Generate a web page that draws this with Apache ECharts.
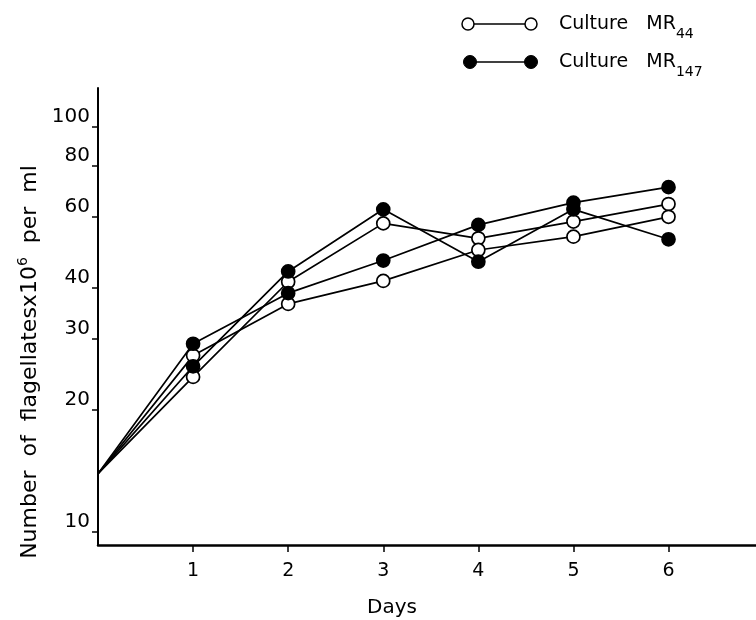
<!DOCTYPE html>
<html>
<head>
<meta charset="utf-8">
<script src="https://cdn.jsdelivr.net/npm/echarts@6/dist/echarts.min.js"></script>
<style>
html,body{margin:0;padding:0;background:#fff;}
#chart{width:756px;height:620px;}
</style>
</head>
<body>
<div id="chart"></div>
<script>
// ---- data ----
const days = [0, 1, 2, 3, 4, 5, 6];
const dayTicks = [1, 2, 3, 4, 5, 6];
const yTicks = [10, 20, 30, 40, 60, 80, 100];
// Culture MR147 (filled), two replicates
const mr147a = [13.9, 29.1, 38.8, 46.7, 57.2, 64.9, 70.9];
const mr147b = [13.9, 25.6, 43.9, 62.5, 46.4, 62.5, 52.7];
// Culture MR44 (open), two replicates
const mr44a = [13.9, 24.1, 41.4, 57.7, 53.0, 58.3, 64.4];
const mr44b = [13.9, 27.2, 36.5, 41.6, 49.6, 53.5, 59.9];

const FONT = 'DejaVu Sans';

function toData(vals) {
  return days.map((d, i) => i === 0 ? { value: [d, vals[i]], symbol: 'none' } : [d, vals[i]]);
}
function mkSeries(name, vals, filled) {
  return {
    name: name,
    type: 'line',
    data: toData(vals),
    symbol: 'circle',
    symbolSize: 13,
    showSymbol: true,
    lineStyle: { color: '#000', width: 1.7 },
    itemStyle: { color: filled ? '#000' : '#fff', borderColor: '#000', borderWidth: 1.7, opacity: 1 },
    emphasis: { disabled: true },
    z: filled ? 3 : 2
  };
}

const chart = echarts.init(document.getElementById('chart'));
chart.setOption({
  animation: false,
  backgroundColor: '#fff',
  grid: { left: 98, right: 0, top: 88, bottom: 75, outerBoundsMode: 'none' },
  xAxis: {
    type: 'value',
    min: 0,
    max: 6.92,
    interval: 1,
    name: 'Days',
    nameLocation: 'middle',
    nameGap: 53,
    nameTextStyle: { fontFamily: FONT, fontSize: 20, color: '#000', padding: [0, 70, 0, 0] },
    axisLine: { show: true, lineStyle: { color: '#000', width: 2.5 } },
    axisTick: { show: true, customValues: dayTicks, length: 7, lineStyle: { color: '#000', width: 1.5 } },
    axisLabel: { customValues: dayTicks, fontFamily: FONT, fontSize: 19, color: '#000', margin: 17 },
    splitLine: { show: false }
  },
  yAxis: {
    type: 'log',
    logBase: 10,
    min: 9.265,
    max: 124.6,
    axisLine: { show: true, lineStyle: { color: '#000', width: 2 } },
    axisTick: { show: true, customValues: yTicks, length: 6, lineStyle: { color: '#000', width: 1.5 } },
    axisLabel: { customValues: yTicks, fontFamily: FONT, fontSize: 20, color: '#000', margin: 8, verticalAlign: 'bottom' },
    splitLine: { show: false },
    minorTick: { show: false },
    minorSplitLine: { show: false }
  },
  series: [
    mkSeries('MR44 a', mr44a, false),
    mkSeries('MR44 b', mr44b, false),
    mkSeries('MR147 a', mr147a, true),
    mkSeries('MR147 b', mr147b, true)
  ],
  graphic: [
    {
      type: 'text',
      x: 30, y: 362,
      rotation: Math.PI / 2,
      style: {
        text: 'Number  of  flagellatesx10{sup|6}  per  ml',
        fontFamily: FONT, fontSize: 22, fill: '#000',
        align: 'center', verticalAlign: 'middle',
        lineHeight: 28,
        rich: { sup: { fontFamily: FONT, fontSize: 14, verticalAlign: 'top', lineHeight: 28, padding: [0, 0, 8, 0] } }
      }
    },
    // legend row 1: open circles
    { type: 'line', shape: { x1: 468, y1: 24, x2: 531, y2: 24 }, style: { stroke: '#000', lineWidth: 1.5 } },
    { type: 'circle', shape: { cx: 468, cy: 24, r: 6 }, style: { fill: '#fff', stroke: '#000', lineWidth: 1.5 } },
    { type: 'circle', shape: { cx: 531, cy: 24, r: 6 }, style: { fill: '#fff', stroke: '#000', lineWidth: 1.5 } },
    {
      type: 'text', x: 559, y: 24,
      style: {
        text: 'Culture   MR{sub|44}', fontFamily: FONT, fontSize: 19, fill: '#000',
        align: 'left', verticalAlign: 'middle', lineHeight: 34,
        rich: { sub: { fontFamily: FONT, fontSize: 14, verticalAlign: 'bottom', lineHeight: 15 } }
      }
    },
    // legend row 2: filled circles
    { type: 'line', shape: { x1: 470, y1: 62, x2: 531, y2: 62 }, style: { stroke: '#000', lineWidth: 1.5 } },
    { type: 'circle', shape: { cx: 470, cy: 62, r: 6.5 }, style: { fill: '#000', stroke: '#000', lineWidth: 1 } },
    { type: 'circle', shape: { cx: 531, cy: 62, r: 6.5 }, style: { fill: '#000', stroke: '#000', lineWidth: 1 } },
    {
      type: 'text', x: 559, y: 62,
      style: {
        text: 'Culture   MR{sub|147}', fontFamily: FONT, fontSize: 19, fill: '#000',
        align: 'left', verticalAlign: 'middle', lineHeight: 34,
        rich: { sub: { fontFamily: FONT, fontSize: 14, verticalAlign: 'bottom', lineHeight: 15 } }
      }
    }
  ]
});
</script>
</body>
</html>
